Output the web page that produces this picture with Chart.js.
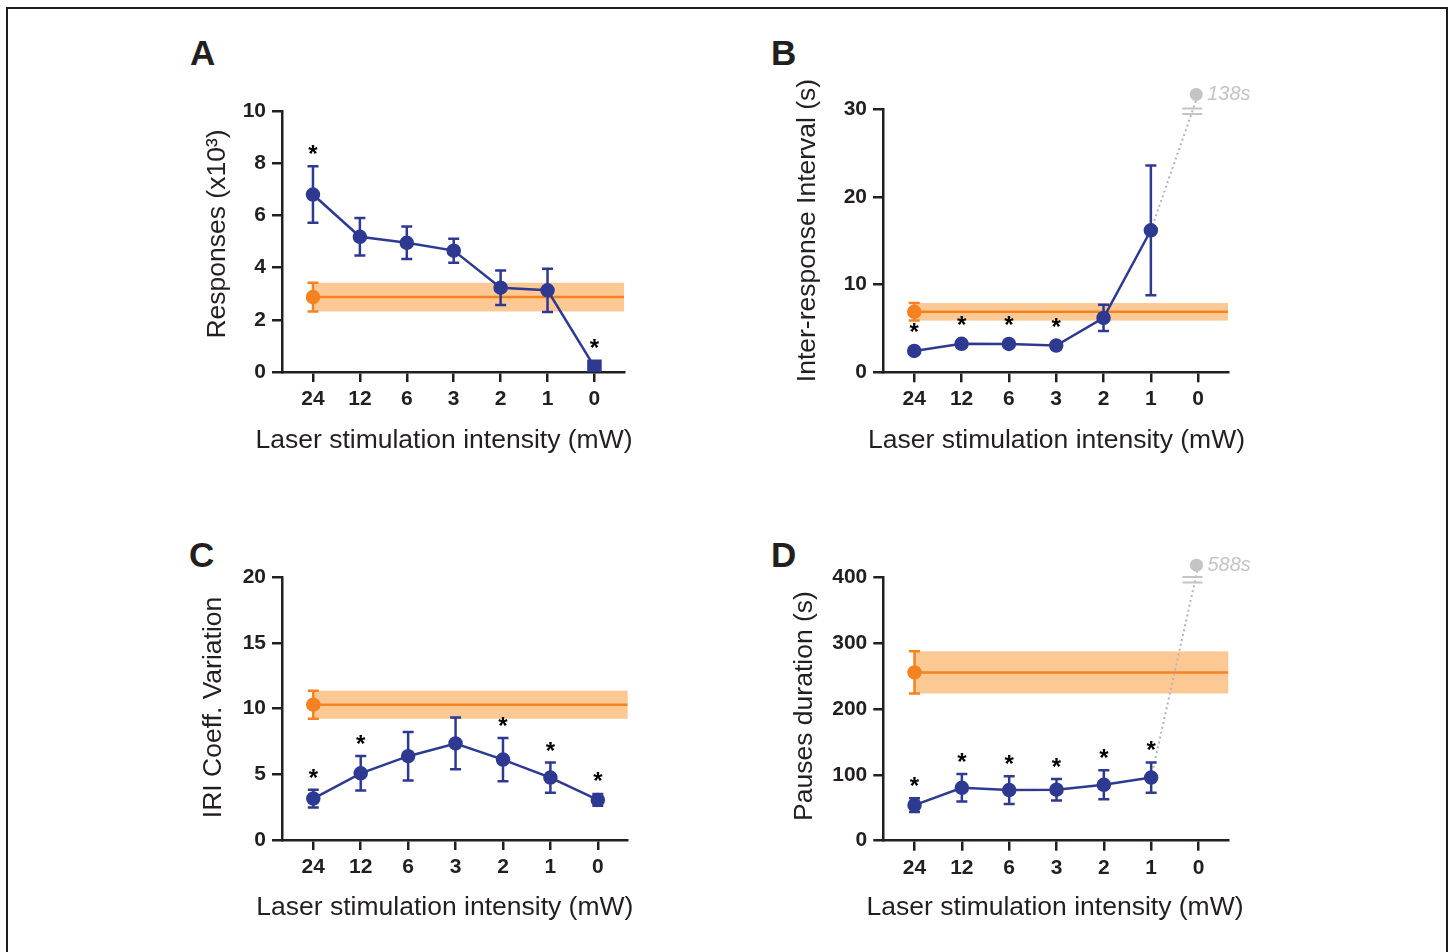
<!DOCTYPE html>
<html>
<head>
<meta charset="utf-8">
<script src="https://cdn.jsdelivr.net/npm/chart.js@4.4.1/dist/chart.umd.min.js"></script>
<style>
  body { margin: 0; background: #fff; width: 1451px; height: 952px; overflow: hidden; position: relative; }
  .frame { position: absolute; left: 6px; top: 7px; width: 1442px; height: 1000px; border: 2px solid #1c1c1c; box-sizing: border-box; }
  .tag { position: absolute; font: bold 35px/1 "Liberation Sans", Arial, sans-serif; color: #231f20; }
  canvas { position: absolute; }
</style>
</head>
<body>
<div class="frame"></div>
<div class="tag" style="left:190px;top:35px">A</div>
<div class="tag" style="left:771px;top:35px">B</div>
<div class="tag" style="left:189px;top:537px">C</div>
<div class="tag" style="left:771px;top:537px">D</div>
<canvas id="chartA" width="470" height="400" style="left:180px;top:70px"></canvas>
<canvas id="chartB" width="490" height="400" style="left:780px;top:70px"></canvas>
<canvas id="chartC" width="470" height="410" style="left:180px;top:530px"></canvas>
<canvas id="chartD" width="490" height="410" style="left:780px;top:530px"></canvas>
<script>
// laser intensities (mW), shared by all panels
const intensities = ['24', '12', '6', '3', '2', '1', '0'];
const xTitle = 'Laser stimulation intensity (mW)';

// A - responses (x10^3)
const respMean = [6.8, 5.18, 4.95, 4.65, 3.23, 3.13, 0.2];
const respSem = [1.08, 0.72, 0.62, 0.46, 0.66, 0.83, 0.05];
const respStar = [true, false, false, false, false, false, true];
const respCtrl = 2.87;
const respCtrlSem = 0.55;
const respTicks = [0, 2, 4, 6, 8, 10];

// B - inter-response interval (s)
const iriMean = [2.43, 3.25, 3.23, 3.05, 6.2, 16.2, null];
const iriSem = [0.35, 0.35, 0.35, 0.35, 1.5, 7.4, null];
const iriStar = [true, true, true, true, false, false, false];
const iriCtrl = 6.9;
const iriCtrlSem = 1.0;
const iriTicks = [0, 10, 20, 30];
const iriOffLabel = '138s';
const iriOffPlot = 31.7; // off-scale point, drawn just above the axis break

// C - IRI coefficient of variation
const cvMean = [3.15, 5.08, 6.38, 7.35, 6.12, 4.75, 3.05];
const cvSem = [0.68, 1.32, 1.85, 1.97, 1.65, 1.15, 0.45];
const cvStar = [true, true, false, false, true, true, true];
const cvCtrl = 10.3;
const cvCtrlSem = 1.07;
const cvTicks = [0, 5, 10, 15, 20];

// D - pauses duration (s)
const pauseMean = [54, 80.5, 77, 77.5, 85, 96, null];
const pauseSem = [10.5, 21, 21, 16.5, 22, 23, null];
const pauseStar = [true, true, true, true, true, true, false];
const pauseCtrl = 256;
const pauseCtrlSem = 32;
const pauseTicks = [0, 100, 200, 300, 400];
const pauseOffLabel = '588s';
const pauseOffPlot = 419;

const ink = '#231f20';
const blue = '#2e3a92';
const orange = '#f58220';
const bandFill = '#fcc995';
const grey = '#c4c4c4';
const family = '"Liberation Sans", Arial, Helvetica, sans-serif';
const X_MIN = -0.66;
const X_MAX = 6.63;

function makePanel(id, p) {
  const datasets = [
    {
      data: [{ x: 0, y: p.ctrl }, { x: X_MAX, y: p.ctrl }],
      borderColor: orange, borderWidth: 2.5,
      pointRadius: [6, 0], pointBackgroundColor: orange, pointBorderColor: orange,
      order: 3
    },
    {
      data: intensities.map((_, i) => ({ x: i, y: p.mean[i] })),
      borderColor: blue, borderWidth: 2.5,
      pointStyle: p.shape || 'circle', pointRadius: p.radius || 6,
      pointBackgroundColor: blue, pointBorderColor: blue,
      order: 1
    }
  ];
  if (p.offPlot != null) {
    // dotted link to the off-scale 0 mW value
    datasets.push({
      data: [{ x: 5, y: p.mean[5] }, { x: 6, y: p.offPlot }],
      borderColor: '#b4b4b4', borderWidth: 2, borderDash: [2, 3],
      pointRadius: 0, clip: false, order: 2
    });
  }

  const marks = {
    id: 'marks',
    beforeDatasetsDraw(chart) {
      const { ctx, chartArea, scales: { x, y } } = chart;
      const x0 = x.getPixelForValue(0);
      const top = y.getPixelForValue(p.ctrl + p.ctrlSem);
      const bot = y.getPixelForValue(p.ctrl - p.ctrlSem);
      ctx.save();
      ctx.fillStyle = bandFill;
      ctx.fillRect(x0, top, chartArea.right - x0, bot - top);
      ctx.restore();
    },
    afterDatasetsDraw(chart) {
      const { ctx, chartArea, scales: { x, y } } = chart;
      const bar = (i, m, s, color) => {
        const px = x.getPixelForValue(i);
        const t = y.getPixelForValue(m + s), b = y.getPixelForValue(m - s);
        ctx.strokeStyle = color;
        ctx.lineWidth = 2.5;
        ctx.beginPath();
        ctx.moveTo(px, t); ctx.lineTo(px, b);
        ctx.moveTo(px - 5.5, t); ctx.lineTo(px + 5.5, t);
        ctx.moveTo(px - 5.5, b); ctx.lineTo(px + 5.5, b);
        ctx.stroke();
      };
      ctx.save();
      bar(0, p.ctrl, p.ctrlSem, orange);
      p.mean.forEach((m, i) => { if (m != null) bar(i, m, p.sem[i], blue); });

      // significance stars
      ctx.fillStyle = '#000';
      ctx.font = 'bold 24px ' + family;
      ctx.textAlign = 'center';
      ctx.textBaseline = 'alphabetic';
      p.star.forEach((s, i) => {
        if (!s) return;
        const top = Math.min(y.getPixelForValue(p.mean[i] + p.sem[i]), y.getPixelForValue(p.mean[i]) - 6.5);
        ctx.fillText('*', x.getPixelForValue(i), top - 16 + 12);
      });

      // axis break, off-scale point and its value
      if (p.offPlot != null) {
        const px = x.getPixelForValue(6);
        const py = y.getPixelForValue(p.offPlot);
        ctx.strokeStyle = grey;
        ctx.lineWidth = 2;
        ctx.beginPath();
        ctx.moveTo(px - 16, chartArea.top - 0.8); ctx.lineTo(px + 4, chartArea.top - 0.8);
        ctx.moveTo(px - 16, chartArea.top + 4.7); ctx.lineTo(px + 4, chartArea.top + 4.7);
        ctx.stroke();
        ctx.fillStyle = grey;
        ctx.beginPath();
        ctx.arc(px - 2, py, 6.5, 0, Math.PI * 2);
        ctx.fill();
        ctx.font = 'italic 20px ' + family;
        ctx.textAlign = 'left';
        ctx.textBaseline = 'middle';
        ctx.fillText(p.offLabel, px + 9, py);
      }
      ctx.restore();
    },
    afterDraw(chart) {
      // axis titles, placed like the figure (they are wider than the axes)
      const { ctx, chartArea: a } = chart;
      ctx.save();
      ctx.fillStyle = ink;
      ctx.font = '26.5px ' + family;
      ctx.textAlign = 'center';
      ctx.textBaseline = 'middle';
      ctx.fillText(xTitle, (a.left + a.right) / 2 + p.xShift, a.bottom + p.xGap);
      ctx.translate(a.left - p.yGap, (a.top + a.bottom) / 2 + p.yShift);
      ctx.rotate(-Math.PI / 2);
      ctx.fillText(p.yTitle, 0, 0);
      ctx.restore();
    }
  };

  const tickFont = { family, size: 21, weight: 'bold' };
  const grid = { drawOnChartArea: false, drawTicks: true, tickLength: 10, color: ink, lineWidth: 2.5 };
  const border = { color: ink, width: 2.5 };

  return new Chart(document.getElementById(id), {
    type: 'line',
    data: { datasets },
    options: {
      responsive: false,
      animation: false,
      layout: { padding: { left: 0, top: p.padTop, right: p.padRight, bottom: 0 } },
      plugins: { legend: { display: false }, tooltip: { enabled: false } },
      scales: {
        x: {
          type: 'linear', min: X_MIN, max: X_MAX,
          afterBuildTicks: s => { s.ticks = intensities.map((_, i) => ({ value: i })); },
          afterFit: s => { s.height = p.xHeight; },
          ticks: { callback: v => intensities[v], font: tickFont, color: ink, padding: 4.5, autoSkip: false, maxRotation: 0 },
          grid, border
        },
        y: {
          min: p.ticks[0], max: p.ticks[p.ticks.length - 1],
          afterBuildTicks: s => { s.ticks = p.ticks.map(v => ({ value: v })); },
          afterFit: s => { s.width = p.yWidth; },
          ticks: { font: tickFont, color: ink, padding: 6 },
          grid, border
        }
      }
    },
    plugins: [marks]
  });
}

makePanel('chartA', {
  mean: respMean, sem: respSem, star: respStar, ctrl: respCtrl, ctrlSem: respCtrlSem, ticks: respTicks,
  shape: ['circle', 'circle', 'circle', 'circle', 'circle', 'circle', 'rect'],
  radius: [6, 6, 6, 6, 6, 6, 8.5],
  yTitle: 'Responses (x10³)',
  padTop: 41, padRight: 26, yWidth: 102, xHeight: 98,
  xGap: 68.9, xShift: -9, yGap: 64.4, yShift: -7.5
});

makePanel('chartB', {
  mean: iriMean, sem: iriSem, star: iriStar, ctrl: iriCtrl, ctrlSem: iriCtrlSem, ticks: iriTicks,
  offPlot: iriOffPlot, offLabel: iriOffLabel,
  yTitle: 'Inter-response Interval (s)',
  padTop: 39.3, padRight: 42, yWidth: 103, xHeight: 97.7,
  xGap: 68.6, xShift: 1, yGap: 75.1, yShift: -10.3
});

makePanel('chartC', {
  mean: cvMean, sem: cvSem, star: cvStar, ctrl: cvCtrl, ctrlSem: cvCtrlSem, ticks: cvTicks,
  yTitle: 'IRI Coeff. Variation',
  padTop: 47.3, padRight: 22.3, yWidth: 102, xHeight: 100,
  xGap: 67.6, xShift: -10, yGap: 68.5, yShift: -1.2
});

makePanel('chartD', {
  mean: pauseMean, sem: pauseSem, star: pauseStar, ctrl: pauseCtrl, ctrlSem: pauseCtrlSem, ticks: pauseTicks,
  offPlot: pauseOffPlot, offLabel: pauseOffLabel,
  yTitle: 'Pauses duration (s)',
  padTop: 47.7, padRight: 41.7, yWidth: 103.3, xHeight: 99.3,
  xGap: 66.9, xShift: -0.8, yGap: 79.1, yShift: -3.2
});
</script>
</body>
</html>
